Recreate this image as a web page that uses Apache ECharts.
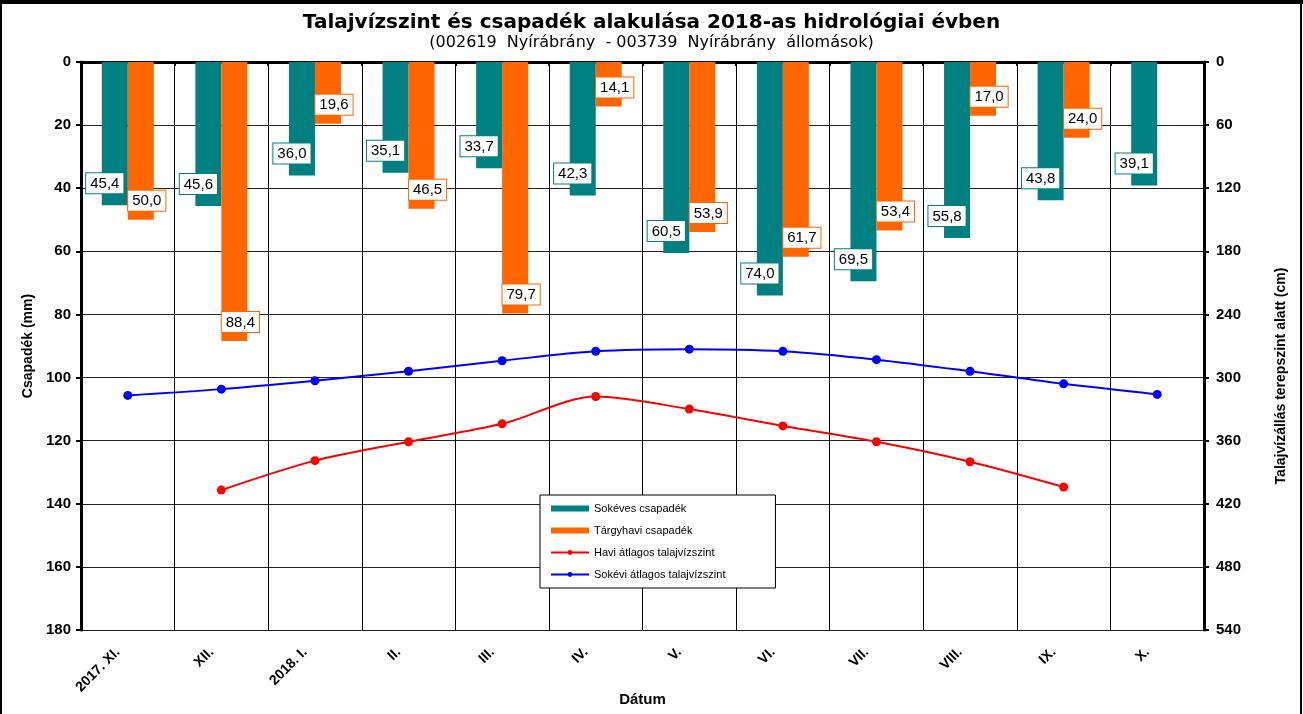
<!DOCTYPE html>
<html>
<head>
<meta charset="utf-8">
<script src="https://cdn.jsdelivr.net/npm/echarts@6/dist/echarts.min.js"></script>
<style>
  html, body { margin: 0; padding: 0; background: #fff; }
  #chart { width: 1303px; height: 714px; }
</style>
</head>
<body>
<div id="chart"></div>
<script>
  // hónapok
  const months = ['2017. XI.', 'XII.', '2018. I.', 'II.', 'III.', 'IV.', 'V.', 'VI.', 'VII.', 'VIII.', 'IX.', 'X.']
  // csapadék (mm)
  const sokevesCsapadek = [45.4, 45.6, 36.0, 35.1, 33.7, 42.3, 60.5, 74.0, 69.5, 55.8, 43.8, 39.1]
  const targyhaviCsapadek = [50.0, 88.4, 19.6, 46.5, 79.7, 14.1, 53.9, 61.7, 53.4, 17.0, 24.0, null]
  // talajvízszint (cm)
  const haviTalajviz = [null, 407, 379, 361, 344, 318, 330, 346, 361, 380, 404, null]
  const sokeviTalajviz = [317, 311, 303, 294, 284, 275, 273, 275, 283, 294, 306, 316]

  const chart = echarts.init(document.getElementById('chart'))
  const font = 'Liberation Sans, Arial, sans-serif'
  const wideFont = 'DejaVu Sans, sans-serif'

  const fmt = (p) => p.value == null ? '' : p.value.toFixed(1).replace('.', ',')

  const barLabel = (color, offset) => ({
    show: true,
    position: 'bottom',
    distance: 0,
    offset: offset,
    formatter: fmt,
    color: '#000',
    fontFamily: font,
    fontSize: 15,
    backgroundColor: '#fff',
    borderColor: color,
    borderWidth: 1,
    padding: [3, 4, 2, 4]
  })

  const option = {
    animation: false,
    backgroundColor: '#fff',
    textStyle: { fontFamily: font },
    title: {
      text: 'Talajvízszint és csapadék alakulása 2018-as hidrológiai évben',
      subtext: '(002619  Nyírábrány  - 003739  Nyírábrány  állomások)',
      left: 'center',
      top: 8,
      itemGap: 2,
      textStyle: { fontSize: 20, fontWeight: 'bold', color: '#000', fontFamily: wideFont },
      subtextStyle: { fontSize: 16, color: '#000', fontFamily: wideFont }
    },
    grid: { left: 81, right: 99, top: 62, bottom: 84, containLabel: false, outerBoundsMode: 'none' },
    legend: {
      orient: 'vertical',
      left: 540,
      top: 495,
      width: 230,
      itemGap: 11,
      itemWidth: 38,
      itemHeight: 6,
      padding: [8, 50, 8, 10],
      backgroundColor: '#fff',
      borderColor: '#000',
      borderWidth: 1,
      textStyle: { fontSize: 11, color: '#000', fontFamily: font },
      data: [
        { name: 'Sokéves csapadék', icon: 'rect' },
        { name: 'Tárgyhavi csapadék', icon: 'rect' },
        { name: 'Havi átlagos talajvízszint' },
        { name: 'Sokévi átlagos talajvízszint' }
      ]
    },
    xAxis: {
      type: 'category',
      data: months,
      name: 'Dátum',
      nameLocation: 'middle',
      nameGap: 62,
      nameMoveOverlap: false,
      nameTextStyle: { fontSize: 15, fontWeight: 'bold', color: '#000' },
      axisLine: { lineStyle: { color: '#000', width: 3 } },
      axisTick: { show: true, length: 4, lineStyle: { color: '#000', width: 2 } },
      axisLabel: { rotate: 45, fontSize: 14, fontWeight: 'bold', color: '#000', margin: 10, padding: [0, 14, 0, 0] },
      splitLine: { show: true, lineStyle: { color: '#000', width: 1 } }
    },
    yAxis: [
      {
        type: 'value',
        inverse: true,
        min: 0,
        max: 180,
        interval: 20,
        name: 'Csapadék (mm)',
        nameLocation: 'middle',
        nameGap: 46,
        nameRotate: 90,
        nameTextStyle: { fontSize: 14, fontWeight: 'bold', color: '#000' },
        axisLine: { show: true, lineStyle: { color: '#000', width: 3 } },
        axisTick: { show: true, length: 5, lineStyle: { color: '#000', width: 2 } },
        axisLabel: { fontSize: 15, fontWeight: 'bold', color: '#000', margin: 10 },
        splitLine: { show: true, lineStyle: { color: '#222', width: 1 } }
      },
      {
        type: 'value',
        inverse: true,
        min: 0,
        max: 540,
        interval: 60,
        name: 'Talajvízállás terepszint alatt (cm)',
        nameLocation: 'middle',
        nameGap: 70,
        nameRotate: 90,
        nameTextStyle: { fontSize: 14, fontWeight: 'bold', color: '#000', padding: [0, 60, 0, 0] },
        axisLine: { show: true, lineStyle: { color: '#000', width: 3 } },
        axisTick: { show: true, length: 5, lineStyle: { color: '#000', width: 2 } },
        axisLabel: { fontSize: 15, fontWeight: 'bold', color: '#000', margin: 12 },
        splitLine: { show: false }
      }
    ],
    series: [
      {
        name: 'Sokéves csapadék',
        type: 'bar',
        yAxisIndex: 0,
        data: sokevesCsapadek,
        barWidth: 26,
        barGap: '0%',
        itemStyle: { color: '#008080' },
        label: barLabel('#008080', [-10, -32])
      },
      {
        name: 'Tárgyhavi csapadék',
        type: 'bar',
        yAxisIndex: 0,
        data: targyhaviCsapadek,
        barWidth: 26,
        barGap: '0%',
        itemStyle: { color: '#FF6600' },
        label: barLabel('#FF6600', [6, -29])
      },
      {
        name: 'Havi átlagos talajvízszint',
        type: 'line',
        yAxisIndex: 1,
        data: haviTalajviz,
        smooth: 0.3,
        symbol: 'circle',
        symbolSize: 9,
        lineStyle: { color: '#FF0000', width: 2 },
        itemStyle: { color: '#FF0000' }
      },
      {
        name: 'Sokévi átlagos talajvízszint',
        type: 'line',
        yAxisIndex: 1,
        data: sokeviTalajviz,
        smooth: 0.3,
        symbol: 'circle',
        symbolSize: 9,
        lineStyle: { color: '#0000FF', width: 2 },
        itemStyle: { color: '#0000FF' }
      }
    ],
    graphic: [
      {
        type: 'rect',
        shape: { x: 1, y: 1, width: 1300, height: 720 },
        style: { fill: 'none', stroke: '#000', lineWidth: 2 },
        silent: true
      },
      {
        type: 'rect',
        shape: { x: 0, y: 0, width: 1303, height: 4 },
        style: { fill: '#000' },
        silent: true
      }
    ]
  }

  chart.setOption(option)
</script>
</body>
</html>
